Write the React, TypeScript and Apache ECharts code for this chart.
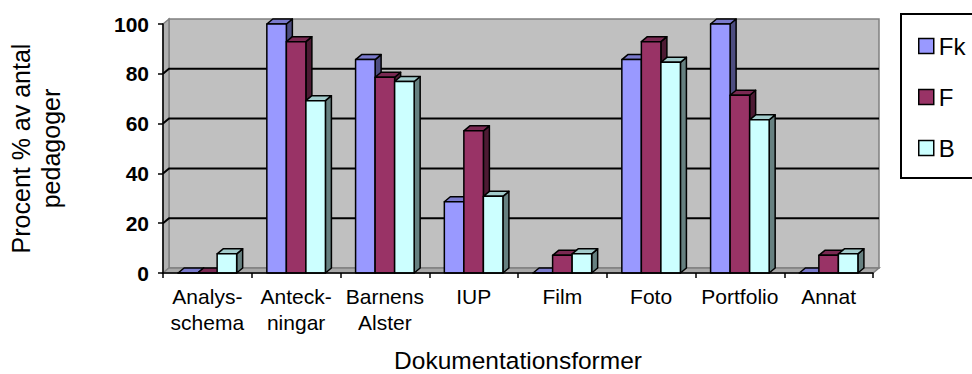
import React, { useEffect, useRef } from "react";
import * as echarts from "echarts";

const categories = ["Analys-\nschema", "Anteck-\nningar", "Barnens\nAlster", "IUP", "Film", "Foto", "Portfolio", "Annat"];
const seriesNames = ["Fk", "F", "B"];
const fkValues = [0, 100, 85.7, 28.6, 0, 85.7, 100, 0];
const fValues = [0, 92.9, 78.6, 57.1, 7.1, 92.9, 71.4, 7.1];
const bValues = [7.7, 69.2, 76.9, 30.8, 7.7, 84.6, 61.5, 7.7];
const yTicks = [0, 20, 40, 60, 80, 100];

const FONT = "'Liberation Sans', Arial, sans-serif";
const DX = 6;
const DY = -5;

const palettes = [
  { front: "#9999ff", top: "#7a7acc", side: "#4d4d80" },
  { front: "#993366", top: "#7a2952", side: "#4d1a33" },
  { front: "#ccffff", top: "#a3cccc", side: "#668080" },
];

function barSeries(name: string, values: number[], si: number) {
  const pal = palettes[si];
  return {
    type: "custom",
    name,
    z: 3,
    itemStyle: { color: pal.front, borderColor: "#000", borderWidth: 1.5 },
    data: values.map((v, i) => [i, v]),
    renderItem: (params: any, api: any) => {
      const cat = api.value(0);
      const val = api.value(1);
      const band = api.size([1, 0])[0];
      const bw = band * 0.22;
      const base = api.coord([cat, 0]);
      const yTop = api.coord([cat, val])[1];
      const yBot = base[1];
      const x = base[0] - 1.5 * bw + si * bw;
      const stroke = { stroke: "#000", lineWidth: 1.5, lineJoin: "round" };
      return {
        type: "group",
        children: [
          {
            type: "polygon",
            shape: { points: [[x + bw, yTop], [x + bw + DX, yTop + DY], [x + bw + DX, yBot + DY], [x + bw, yBot]] },
            style: { fill: pal.side, ...stroke },
          },
          {
            type: "polygon",
            shape: { points: [[x, yTop], [x + DX, yTop + DY], [x + bw + DX, yTop + DY], [x + bw, yTop]] },
            style: { fill: pal.top, ...stroke },
          },
          {
            type: "rect",
            shape: { x, y: yTop, width: bw, height: yBot - yTop },
            style: { fill: pal.front, ...stroke },
          },
        ],
      };
    },
  };
}

export default function App() {
  const ref = useRef<HTMLDivElement>(null);
  useEffect(() => {
    if (!ref.current) return;
    const chart = echarts.init(ref.current, undefined, { renderer: "svg" });
    const wallSeries = {
      type: "custom",
      name: "walls",
      silent: true,
      z: 1,
      data: [[0, 0]],
      renderItem: (params: any, api: any) => {
        const cs = params.coordSys;
        const x0 = cs.x;
        const x1 = cs.x + cs.width;
        const yT = cs.y;
        const yB = cs.y + cs.height;
        const children: any[] = [
          {
            type: "rect",
            shape: { x: x0 + DX, y: yT + DY, width: x1 - x0, height: yB - yT },
            style: { fill: "#c0c0c0", stroke: "#808080", lineWidth: 1.5 },
          },
          {
            type: "polygon",
            shape: { points: [[x0, yT], [x0 + DX, yT + DY], [x0 + DX, yB + DY], [x0, yB]] },
            style: { fill: "#b0b0b0", stroke: "#808080", lineWidth: 1.5 },
          },
          {
            type: "polygon",
            shape: { points: [[x0, yB], [x0 + DX, yB + DY], [x1 + DX, yB + DY], [x1, yB]] },
            style: { fill: "#a8a8a8", stroke: "#808080", lineWidth: 1.5 },
          },
        ];
        yTicks.forEach((v) => {
          if (v === 0 || v === 100) return;
          const y = api.coord([0, v])[1];
          children.push({
            type: "polyline",
            shape: { points: [[x0, y], [x0 + DX, y + DY], [x1 + DX, y + DY]] },
            style: { fill: "none", stroke: "#000", lineWidth: 2 },
          });
        });
        return { type: "group", children };
      },
    };
    chart.setOption({
      animation: false,
      backgroundColor: "#fff",
      textStyle: { fontFamily: FONT, color: "#000" },
      grid: { left: 163, right: 99, top: 24, bottom: 101, containLabel: false, outerBoundsMode: "none" },
      graphic: [
        {
          type: "rect",
          z: 1,
          shape: { x: 901, y: 14, width: 90, height: 164 },
          style: { fill: "#fff", stroke: "#000", lineWidth: 2 },
        },
      ],
      legend: {
        orient: "vertical",
        left: 918,
        top: 34,
        padding: 0,
        z: 5,
        itemWidth: 15,
        itemHeight: 15,
        itemGap: 27,
        textStyle: { fontFamily: FONT, fontSize: 24, lineHeight: 24, color: "#000" },
        data: seriesNames.map((n, i) => ({
          name: n,
          icon: "rect",
          itemStyle: { color: palettes[i].front, borderColor: "#000", borderWidth: 1.5 },
        })),
      },
      xAxis: {
        type: "category",
        data: categories,
        boundaryGap: true,
        name: "Dokumentationsformer",
        nameLocation: "middle",
        nameGap: 75,
        nameTextStyle: { fontFamily: FONT, fontSize: 24.5, lineHeight: 25, color: "#000" },
        axisLine: { show: true, lineStyle: { color: "#000", width: 1.5 } },
        axisTick: { show: true, interval: 0, length: 5, lineStyle: { color: "#000", width: 1.5 } },
        axisLabel: { interval: 0, margin: 10, fontFamily: FONT, fontSize: 21, lineHeight: 26, color: "#000" },
        splitLine: { show: false },
        z: 4,
      },
      yAxis: {
        type: "value",
        min: 0,
        max: 100,
        interval: 20,
        name: "Procent % av antal\npedagoger",
        nameLocation: "middle",
        nameRotate: 90,
        nameGap: 97,
        nameTextStyle: { fontFamily: FONT, fontSize: 25, lineHeight: 30, color: "#000", align: "center" },
        axisLine: { show: true, lineStyle: { color: "#000", width: 1.5 } },
        axisTick: { show: true, length: 5, lineStyle: { color: "#000", width: 1.5 } },
        axisLabel: { margin: 14, fontFamily: FONT, fontSize: 21, fontWeight: "bold", color: "#000" },
        splitLine: { show: false },
        z: 4,
      },
      series: [
        wallSeries,
        barSeries(seriesNames[0], fkValues, 0),
        barSeries(seriesNames[1], fValues, 1),
        barSeries(seriesNames[2], bValues, 2),
      ],
    });
    return () => chart.dispose();
  }, []);
  return <div ref={ref} style={{ position: "absolute", left: 0, top: 0, width: 972, height: 374 }} />;
}
